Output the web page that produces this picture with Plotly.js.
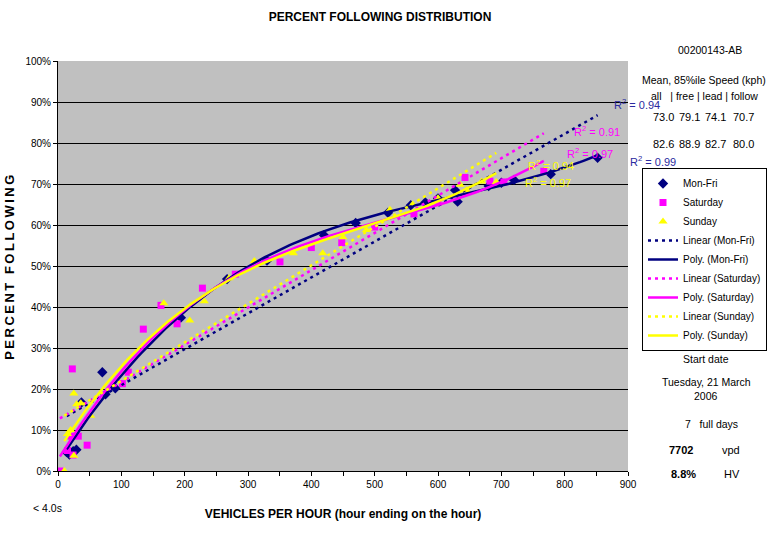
<!DOCTYPE html>
<html>
<head>
<meta charset="utf-8">
<script src="https://cdn.plot.ly/plotly-3.0.1.min.js"></script>
<style>
html,body{margin:0;padding:0;background:#fff;}
#chart{width:772px;height:540px;}
.ytitle{letter-spacing:2.5px;}
</style>
</head>
<body>
<div id="chart"></div>
<script>
// ---- data (vehicles per hour, percent following), one point per hour of day ----
const monX = [13.7, 18, 24, 29, 37, 70, 75, 90.5, 194, 267, 330, 420, 470, 521, 557, 580, 600, 627, 631, 680, 700, 720, 778, 852];
const monY = [4.6, 4.0, 4.8, 5.2, 16.7, 24.1, 18.7, 20.2, 37.4, 46.8, 51.3, 57.5, 60.5, 63.0, 64.8, 65.5, 66.5, 68.5, 65.7, 69.5, 70.3, 71.0, 72.4, 76.4];

const satX = [3, 15, 20.5, 22.6, 23.7, 32, 46, 101.6, 111, 134.7, 162.6, 188, 228, 280, 350.5, 400, 448, 500, 562, 600, 642.6, 682, 704, 767];
const satY = [0, 5.0, 8.5, 24.9, 3.9, 8.5, 6.3, 21.3, 24.1, 34.6, 40.4, 35.9, 44.6, 48.0, 51.0, 54.5, 55.7, 59.5, 62.7, 65.5, 71.6, 70.7, 70.5, 73.1];

const sunX = [10, 15, 20, 25, 25, 29.5, 36, 51.6, 167, 208, 231, 270, 310, 371.6, 418, 450, 487, 524, 560, 600, 635, 645, 669, 692];
const sunY = [0, 9.0, 10.0, 3.7, 18.9, 16.3, 16.5, 13.5, 40.9, 36.7, 41.4, 47.0, 51.2, 53.1, 53.1, 57.0, 58.8, 63.7, 65.0, 66.5, 69.8, 68.5, 70.6, 70.5];

const seriesNames = ['Mon-Fri', 'Saturday', 'Sunday'];
const xTickVals = [0, 100, 200, 300, 400, 500, 600, 700, 800, 900];
const yTickVals = [0, 10, 20, 30, 40, 50, 60, 70, 80, 90, 100];
const r2Labels = ['0.94', '0.99', '0.91', '0.97', '0.94', '0.97']; // linear / poly per series
const speedHeader = 'all   | free | lead | follow';
const speedRow1 = ['73.0', '79.1', '74.1', '70.7'];
const speedRow2 = ['82.6', '88.9', '82.7', '80.0'];

// ---- least-squares polynomial fit of a given order ----
function polyFit(xs, ys, order) {
  const m = order + 1;
  const sc = 1000; // scale x for numerical stability
  const A = [];
  for (let r = 0; r < m; r++) A.push(new Array(m + 1).fill(0));
  for (let i = 0; i < xs.length; i++) {
    const x = xs[i] / sc;
    for (let r = 0; r < m; r++) {
      for (let c = 0; c < m; c++) A[r][c] += Math.pow(x, r + c);
      A[r][m] += Math.pow(x, r) * ys[i];
    }
  }
  for (let c = 0; c < m; c++) {
    let piv = c;
    for (let r = c + 1; r < m; r++) if (Math.abs(A[r][c]) > Math.abs(A[piv][c])) piv = r;
    [A[c], A[piv]] = [A[piv], A[c]];
    for (let r = c + 1; r < m; r++) {
      const f = A[r][c] / A[c][c];
      for (let k = c; k <= m; k++) A[r][k] -= f * A[c][k];
    }
  }
  const co = new Array(m).fill(0);
  for (let r = m - 1; r >= 0; r--) {
    let s = A[r][m];
    for (let k = r + 1; k < m; k++) s -= A[r][k] * co[k];
    co[r] = s / A[r][r];
  }
  return x => co.reduce((acc, c, k) => acc + c * Math.pow(x / sc, k), 0);
}
function sample(f, xs, n) {
  const lo = Math.min(...xs), hi = Math.max(...xs);
  const X = [], Y = [];
  for (let i = 0; i <= n; i++) { const x = lo + (hi - lo) * i / n; X.push(x); Y.push(f(x) / 100); }
  return {X, Y};
}

const NAVY = '#000080', MAG = '#FF00FF', YEL = '#FFFF00';
const FONT = 'Liberation Sans, Arial, sans-serif';

const pct = a => a.map(v => v / 100);
const traces = [
  {x: monX, y: pct(monY), name: seriesNames[0], mode: 'markers', type: 'scatter',
   marker: {symbol: 'diamond', color: NAVY, size: 8}},
  {x: satX, y: pct(satY), name: seriesNames[1], mode: 'markers', type: 'scatter',
   marker: {symbol: 'square', color: MAG, size: 7}},
  {x: sunX, y: pct(sunY), name: seriesNames[2], mode: 'markers', type: 'scatter',
   marker: {symbol: 'triangle-up', color: YEL, size: 8}}
];
const sets = [[monX, monY, NAVY], [satX, satY, MAG], [sunX, sunY, YEL]];
sets.forEach((s, i) => {
  const L = sample(polyFit(s[0], s[1], 1), s[0], 2);
  const Q = sample(polyFit(s[0], s[1], 3), s[0], 150);
  traces.push({x: L.X, y: L.Y, name: 'Linear (' + seriesNames[i] + ')', mode: 'lines', type: 'scatter',
    line: {color: s[2], width: 2.5, dash: '3px,4px'}, hoverinfo: 'skip'});
  traces.push({x: Q.X, y: Q.Y, name: 'Poly. (' + seriesNames[i] + ')', mode: 'lines', type: 'scatter',
    line: {color: s[2], width: 2.5}, hoverinfo: 'skip'});
});

// plot area in pixels: x 58..628, y 61..471
const L0 = 58, R0 = 628, T0 = 61, B0 = 471;
const px = x => (x - L0) / (R0 - L0);
const py = y => (B0 - y) / (B0 - T0);

function ann(text, x, y, opts) {
  return Object.assign({text: text, x: px(x), y: py(y), xref: 'paper', yref: 'paper',
    showarrow: false, xanchor: 'center', yanchor: 'middle',
    font: {family: FONT, size: 11, color: '#000'}}, opts || {});
}
const f = (s, c) => ({family: FONT, size: s, color: c || '#000'});
const r2c = ['#2a2aa0', '#2a2aa0', MAG, MAG, YEL, YEL];
const r2pos = [[637, 104], [653, 161], [597, 131], [590, 153], [551, 165], [548, 182]];
const annotations = r2Labels.map((v, i) =>
  ann('R<sup>2</sup> = ' + v, r2pos[i][0], r2pos[i][1], {font: f(11, r2c[i])}));

annotations.push(ann('00200143-AB', 710, 50, {font: f(10.5)}));
annotations.push(ann('Mean, 85%ile Speed (kph)', 704, 80, {font: f(10.5)}));
annotations.push(ann(speedHeader, 704, 96, {font: f(10.5)}));
const colX = [663, 690, 715, 743];
speedRow1.forEach((v, i) => annotations.push(ann(v, colX[i], 117, {font: f(11)})));
speedRow2.forEach((v, i) => annotations.push(ann(v, colX[i], 144, {font: f(11)})));
annotations.push(ann('Start date', 706, 359, {font: f(10.5)}));
annotations.push(ann('Tuesday, 21 March', 706, 382, {font: f(10.5)}));
annotations.push(ann('2006', 706, 396, {font: f(10.5)}));
annotations.push(ann('7   full days', 711, 424, {font: f(10.5)}));
annotations.push(ann('<b>7702</b>', 681, 450, {font: f(11)}));
annotations.push(ann('vpd', 731, 450, {font: f(11)}));
annotations.push(ann('<b>8.8%</b>', 683, 474, {font: f(11)}));
annotations.push(ann('HV', 732, 474, {font: f(11)}));
annotations.push(ann('< 4.0s', 47, 508, {font: f(10.5)}));

const layout = {
  width: 772, height: 540,
  margin: {l: L0, r: 772 - R0, t: T0, b: 540 - B0, pad: 0, autoexpand: false},
  paper_bgcolor: '#fff', plot_bgcolor: '#C0C0C0',
  font: {family: FONT, size: 10, color: '#000'},
  title: {text: '<b>PERCENT FOLLOWING DISTRIBUTION</b>', x: 380 / 772, xref: 'container', xanchor: 'center',
    y: 1 - 17 / 540, yref: 'container', yanchor: 'middle', font: f(12)},
  xaxis: {range: [0, 900], tickvals: xTickVals, ticks: 'outside', ticklen: 4, tickcolor: '#000',
    minor: {dtick: 50, tick0: 0, ticks: 'outside', ticklen: 4, tickcolor: '#000', showgrid: false},
    showgrid: false, zeroline: false, showline: true, linecolor: '#000', linewidth: 1,
    tickfont: f(10), fixedrange: true,
    title: {text: '<b>VEHICLES PER HOUR (hour ending on the hour)</b>', standoff: 20, font: f(12)}},
  yaxis: {range: [0, 1], tickvals: yTickVals.map(v => v / 100), tickformat: '.0%', ticks: 'outside', ticklen: 4,
    tickcolor: '#000', showgrid: true, gridcolor: '#000', gridwidth: 1, zeroline: false,
    showline: true, linecolor: '#000', linewidth: 1, tickfont: f(10), fixedrange: true,
    title: {text: '<b>PERCENT FOLLOWING</b>', standoff: 7, font: f(13)}},
  showlegend: true,
  legend: {x: px(642), y: py(168), xanchor: 'left', yanchor: 'top', bgcolor: '#fff',
    bordercolor: '#000', borderwidth: 1, font: f(10),
    itemwidth: 30, tracegroupgap: 0},
  annotations: annotations
};

Plotly.newPlot('chart', traces, layout, {staticPlot: true, displayModeBar: false});
</script>
</body>
</html>
